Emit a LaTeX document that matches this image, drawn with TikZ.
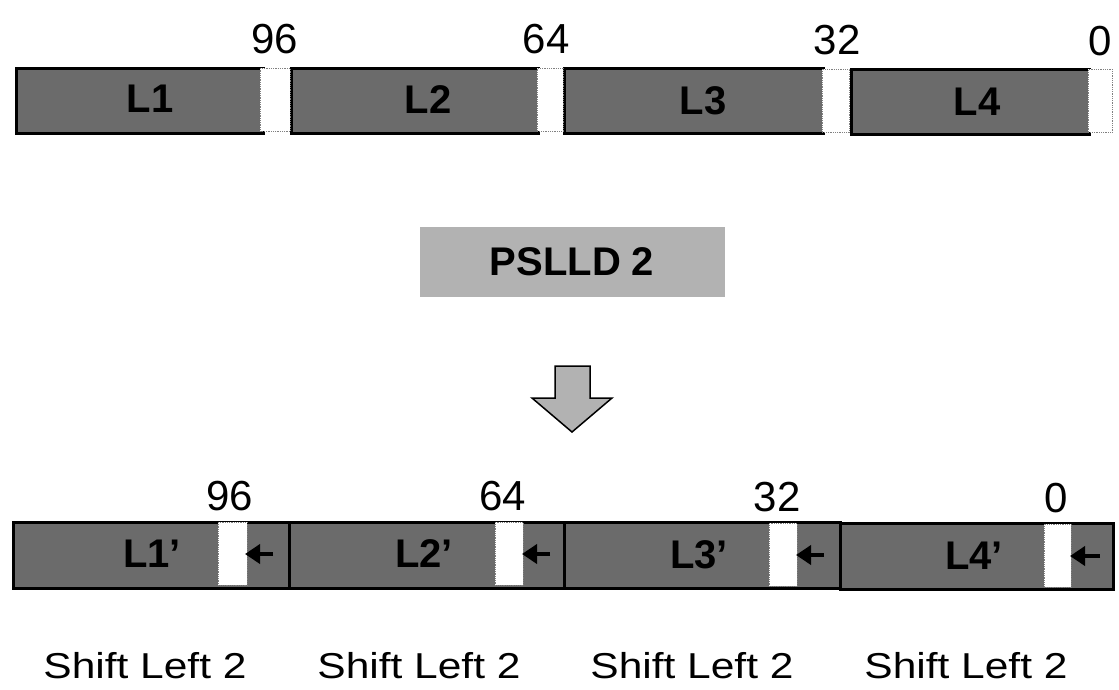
\documentclass[tikz,border=0pt]{standalone}
\usepackage{fontspec}
\setmainfont{Liberation Sans}
\usetikzlibrary{arrows.meta}
\definecolor{segfill}{gray}{0.42}
\definecolor{boxfill}{gray}{0.70}
\tikzset{
  seg/.style={draw=black, line width=2.5pt, fill=segfill, inner sep=0pt, anchor=north west},
  gapbox/.style={draw=black!50, densely dotted, line width=0.8pt, fill=white, inner sep=0pt, anchor=north west},
  num/.style={font=\fontsize{42}{42}\selectfont, inner sep=0pt, anchor=base},
  lab/.style={font=\bfseries\fontsize{40}{40}\selectfont, inner sep=0pt, text=black},
  shiftlab/.style={font=\fontsize{36}{36}\selectfont, inner sep=0pt, anchor=base},
  smallarrow/.style={line width=4pt, -{Triangle[length=15pt,width=19pt]}},
}
\newcommand{\wide}[1]{\scalebox{1.18}[1]{#1}}
\begin{document}
\begin{tikzpicture}[x=1pt,y=-1pt]
\useasboundingbox (0,0) rectangle (1119,689);
% ---------- top register ----------
\node[seg, minimum width=247pt, minimum height=65pt] (t1) at (15,67) {};
\node[seg, minimum width=247pt, minimum height=65pt] (t2) at (290,67) {};
\node[seg, minimum width=259pt, minimum height=65pt] (t3) at (563,67) {};
\node[seg, minimum width=238pt, minimum height=65pt] (t4) at (850,68) {};
\node[gapbox, minimum width=30pt, minimum height=63pt] (tg1) at (260,68) {};
\node[gapbox, minimum width=26pt, minimum height=63pt] (tg2) at (537,68) {};
\node[gapbox, minimum width=27pt, minimum height=63pt] (tg3) at (822,69) {};
\node[gapbox, minimum width=24pt, minimum height=63pt] (tg4) at (1088,69) {};
\node[lab] (lt1) at (150,99) {L1};
\node[lab] (lt2) at (428,100) {L2};
\node[lab] (lt3) at (703,101) {L3};
\node[lab] (lt4) at (977,102) {L4};
\node[num] (n96) at (275,53) {96};
\node[num] (n64) at (546,53) {64};
\node[num] (n32) at (837,54) {32};
\node[num] (n0) at (1100,55) {0};
% ---------- instruction ----------
\node[fill=boxfill, minimum width=305pt, minimum height=70pt, inner sep=0pt,
      font=\bfseries\fontsize{40}{40}\selectfont] (psl) at (572,262) {PSLLD 2};
% block arrow
\draw[line width=1.5pt, fill=boxfill]
  (555,366) -- (590,366) -- (590,398) -- (612,398) -- (572,432) -- (532,398) -- (555,398) -- cycle;
\coordinate (arrowtip) at (572,432);
% ---------- bottom register ----------
\node[seg, minimum width=276pt, minimum height=66pt] (b1) at (12,521) {};
\node[seg, minimum width=275pt, minimum height=66pt] (b2) at (288,521) {};
\node[seg, minimum width=276pt, minimum height=66pt] (b3) at (563,521) {};
\node[seg, minimum width=273pt, minimum height=66pt] (b4) at (839,522) {};
\node[gapbox, minimum width=29pt, minimum height=63pt] (bg1) at (218,522) {};
\node[gapbox, minimum width=28pt, minimum height=63pt] (bg2) at (495,522) {};
\node[gapbox, minimum width=28pt, minimum height=63pt] (bg3) at (769,523) {};
\node[gapbox, minimum width=27pt, minimum height=63pt] (bg4) at (1044,524) {};
\coordinate (a1s) at (273,554); \coordinate (a1e) at (245,554);
\coordinate (a2s) at (550,554); \coordinate (a2e) at (522,554);
\coordinate (a3s) at (824,555); \coordinate (a3e) at (796,555);
\coordinate (a4s) at (1100,556); \coordinate (a4e) at (1070,556);
\draw[smallarrow] (a1s) -- (a1e);
\draw[smallarrow] (a2s) -- (a2e);
\draw[smallarrow] (a3s) -- (a3e);
\draw[smallarrow] (a4s) -- (a4e);
\node[lab] (lb1) at (152,554) {L1'};
\node[lab] (lb2) at (424,554) {L2'};
\node[lab] (lb3) at (699,555) {L3'};
\node[lab] (lb4) at (974,556) {L4'};
\node[num] (m96) at (230,510) {96};
\node[num] (m64) at (503,510) {64};
\node[num] (m32) at (777,511) {32};
\node[num] (m0) at (1056,512) {0};
% ---------- shift labels ----------
\node[shiftlab] (s1) at (145,678) {\wide{Shift Left 2}};
\node[shiftlab] (s2) at (419,678) {\wide{Shift Left 2}};
\node[shiftlab] (s3) at (692,678) {\wide{Shift Left 2}};
\node[shiftlab] (s4) at (966,678) {\wide{Shift Left 2}};
\end{tikzpicture}
\end{document}
